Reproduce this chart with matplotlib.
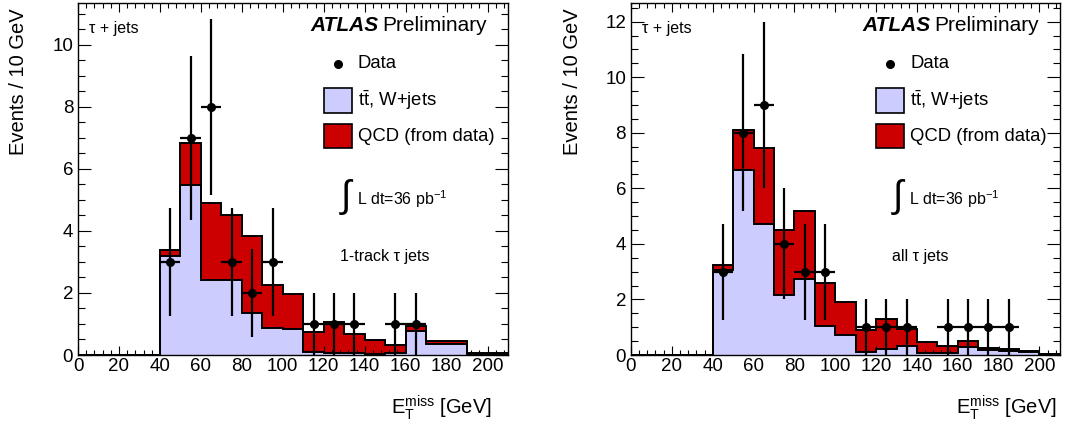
import numpy as np
import matplotlib
matplotlib.use("Agg")
import matplotlib.pyplot as plt
from matplotlib.patches import Rectangle
from matplotlib.ticker import MultipleLocator

plt.rcParams['font.family'] = ['Liberation Sans', 'DejaVu Sans']
plt.rcParams['mathtext.fontset'] = 'custom'
plt.rcParams['mathtext.rm'] = 'Liberation Sans'
plt.rcParams['mathtext.it'] = 'Liberation Sans:italic'
plt.rcParams['mathtext.bf'] = 'Liberation Sans:bold'

# 10 GeV bins, 0-210 GeV
edges = np.arange(0, 220, 10)
centers = edges[:-1] + 5

# 1-track tau jets
mc_1trk = [0, 0, 0, 0, 3.2, 5.47, 2.42, 2.42, 1.37, 0.88, 0.85,
           0.1, 0.08, 0.05, 0.04, 0.05, 0.76, 0.36, 0.35, 0.03, 0.03]
qcd_1trk = [0, 0, 0, 0, 0.17, 1.38, 2.48, 2.10, 2.47, 1.39, 1.13,
            0.65, 0.99, 0.63, 0.45, 0.28, 0.16, 0.08, 0.10, 0.02, 0.02]
data_1trk = [0, 0, 0, 0, 3, 7, 8, 3, 2, 3, 0,
             1, 1, 1, 0, 1, 1, 0, 0, 0, 0]

# all tau jets
mc_all = [0, 0, 0, 0, 3.05, 6.65, 4.7, 2.15, 2.75, 1.05, 0.72,
          0.12, 0.2, 0.33, 0.06, 0.06, 0.28, 0.18, 0.16, 0.1, 0.02]
qcd_all = [0, 0, 0, 0, 0.20, 1.45, 2.75, 2.35, 2.45, 1.55, 1.18,
           0.78, 1.1, 0.62, 0.40, 0.28, 0.22, 0.08, 0.07, 0.04, 0.02]
data_all = [0, 0, 0, 0, 3, 8, 9, 4, 3, 3, 0,
            1, 1, 1, 0, 1, 1, 1, 1, 0, 0]

ylims = [11.35, 12.67]
yticks = [np.arange(0, 11, 2), np.arange(0, 13, 2)]
region_labels = ["1-track τ jets", "all τ jets"]

col_mc = "#ccccff"
col_qcd = "#cc0000"

fig = plt.figure(figsize=(10.66, 4.25), dpi=100)
axes = [fig.add_axes([0.0732, 0.1647, 0.4034, 0.8282]),
        fig.add_axes([0.5919, 0.1647, 0.4024, 0.8282])]

panels = [(mc_1trk, qcd_1trk, data_1trk), (mc_all, qcd_all, data_all)]

for i, (ax, (mc, qcd, data)) in enumerate(zip(axes, panels)):
    mc = np.array(mc)
    total = mc + np.array(qcd)
    data = np.array(data, dtype=float)

    ax.stairs(total, edges, fill=True, color=col_qcd, zorder=1)
    ax.stairs(mc, edges, fill=True, color=col_mc, zorder=2)
    ax.stairs(total, edges, color="black", lw=1.4, zorder=3)
    ax.stairs(mc, edges, color="black", lw=1.4, zorder=3)

    # data with sqrt(N) errors
    sel = data > 0
    ax.errorbar(centers[sel], data[sel], xerr=5, yerr=np.sqrt(data[sel]),
                fmt="o", color="black", ms=5.5, elinewidth=1.6, capsize=0,
                zorder=5)

    ax.set_xlim(0, 210)
    ax.set_ylim(0, ylims[i])
    ax.set_xticks(np.arange(0, 201, 20))
    ax.set_yticks(yticks[i])
    ax.xaxis.set_minor_locator(MultipleLocator(4))
    ax.yaxis.set_minor_locator(MultipleLocator(0.5))
    ax.tick_params(which="both", direction="in", top=True, right=True,
                   labelsize=13.5, width=0.8)
    ax.tick_params(axis="x", which="major", length=6.5, pad=2)
    ax.tick_params(axis="x", which="minor", length=3.3)
    ax.tick_params(axis="y", which="major", length=9.5, pad=3.5)
    ax.tick_params(axis="y", which="minor", length=4.8)
    for s in ax.spines.values():
        s.set_linewidth(1.0)

    ax.text(0.026, 0.929, "τ + jets", transform=ax.transAxes,
            fontsize=11.5, ha="left", va="center")
    ax.text(0.698, 0.935, "ATLAS", transform=ax.transAxes, fontsize=15,
            fontweight="bold", fontstyle="italic", ha="right", va="center")
    ax.text(0.951, 0.935, "Preliminary", transform=ax.transAxes,
            fontsize=15, ha="right", va="center")

    # legend
    ax.plot([0.605], [0.827], "o", color="black", ms=5.5,
            transform=ax.transAxes)
    ax.text(0.651, 0.827, "Data", transform=ax.transAxes, fontsize=13.3,
            ha="left", va="center")
    ax.add_patch(Rectangle((0.572, 0.6875), 0.065, 0.0715,
                           facecolor=col_mc, edgecolor="black", lw=1.2,
                           transform=ax.transAxes, zorder=6))
    ax.text(0.650, 0.723, r"t$\mathrm{\bar{t}}$, W+jets",
            transform=ax.transAxes, fontsize=13.3, ha="left", va="center")
    ax.add_patch(Rectangle((0.572, 0.588), 0.065, 0.068,
                           facecolor=col_qcd, edgecolor="black", lw=1.2,
                           transform=ax.transAxes, zorder=6))
    ax.text(0.650, 0.622, "QCD (from data)", transform=ax.transAxes,
            fontsize=13.3, ha="left", va="center")

    ax.text(0.606, 0.449, r"$\int$", transform=ax.transAxes, fontsize=27,
            ha="left", va="center")
    ax.text(0.649, 0.443, r"L dt=36 pb$^{\mathrm{-1}}$",
            transform=ax.transAxes, fontsize=11.5, ha="left", va="center")
    ax.text(0.609, 0.281, region_labels[i], transform=ax.transAxes,
            fontsize=11.5, ha="left", va="center")

for xl, xr in [(0.017, 0.4615), (0.5366, 0.9916)]:
    fig.text(xl, 0.981, "Events / 10 GeV", rotation=90, fontsize=14.5,
             ha="center", va="top")
    fig.text(xr, 0.042, r"E$_{\mathrm{T}}^{\mathrm{miss}}$ [GeV]",
             fontsize=14.5, ha="right", va="center")

fig.savefig("out.png", dpi=100)
